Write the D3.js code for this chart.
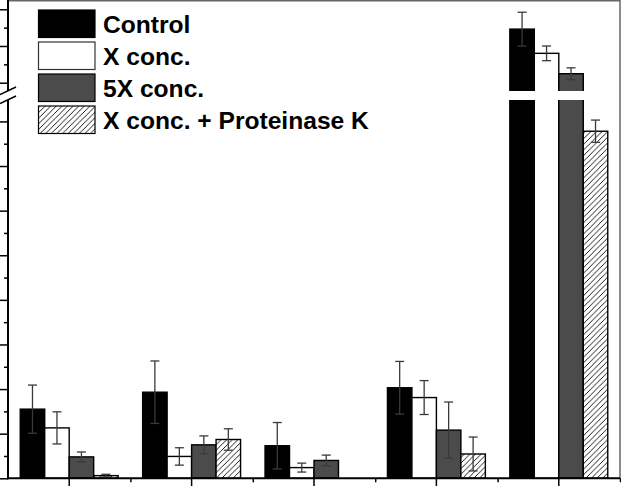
<!DOCTYPE html>
<html><head><meta charset="utf-8">
<script src="https://cdn.jsdelivr.net/npm/d3@7"></script>
<style>html,body{margin:0;padding:0;background:#fff;}svg{display:block;}</style>
</head><body>
<svg id="chart" width="621" height="486"></svg>
<script>
// ---- data ----
const categories = ["G1", "G2", "G3", "G4", "G5"];
const seriesNames = ["Control", "X conc.", "5X conc.", "X conc. + Proteinase K"];
const control      = [1.55, 1.93, 0.73, 2.03, 13.46];
const controlErr   = [0.54, 0.70, 0.52, 0.59, 0.46];
const xConc        = [1.13, 0.49, 0.24, 1.81, 12.80];
const xConcErr     = [0.36, 0.195, 0.10, 0.38, 0.20];
const x5Conc       = [0.48, 0.75, 0.40, 1.08, 12.245];
const x5ConcErr    = [0.11, 0.20, 0.12, 0.63, 0.16];
const xConcPK      = [0.06, 0.87, 0.00, 0.545, 7.78];
const xConcPKErr   = [0.03, 0.24, 0.00, 0.38, 0.25];
const lowerTicksMajor = [0,1,2,3,4,5,6,7,8];
const lowerTicksMinor = [0.5,1.5,2.5,3.5,4.5,5.5,6.5,7.5];
const upperTicksMajor = [12,13,14];
const upperTicksMinor = [12.5,13.5];
const lowerDomain = [0, 8.48];
const upperDomain = [11.774, 14.253];

const values = [control, xConc, x5Conc, xConcPK];
const errors = [controlErr, xConcErr, x5ConcErr, xConcPKErr];

(function draw(){
const svg = d3.select("#chart");
const leftX = 8, rightX = 620, bottomY = 478.3, lowTop = 100, upBottom = 91, topY = 0;

const x = d3.scaleBand().domain(categories).range([leftX, rightX]).padding(0);
const xs = d3.scaleBand().domain(seriesNames).range([x.bandwidth()*0.1, x.bandwidth()*0.9]).padding(0);
const xEdges = d3.scaleLinear().domain([0, categories.length]).range([leftX, rightX]);
const yLow = d3.scaleLinear().domain(lowerDomain).range([bottomY, lowTop]);
const yUp = d3.scaleLinear().domain(upperDomain).range([upBottom, topY]);

const fills = ["#000000", "#ffffff", "#4b4b4b", "url(#hatch)"];

const defs = svg.append("defs");
const hs = 5.6;
const pat = defs.append("pattern").attr("id","hatch").attr("patternUnits","userSpaceOnUse")
  .attr("width",hs).attr("height",hs);
pat.append("rect").attr("width",hs).attr("height",hs).attr("fill","#fff");
pat.append("path").attr("d",`M0,${hs} L${hs},0 M${-hs/4},${hs/4} L${hs/4},${-hs/4} M${hs*0.75},${hs*1.25} L${hs*1.25},${hs*0.75}`)
  .attr("stroke","#000").attr("stroke-width",0.9);
defs.append("clipPath").attr("id","clipLow").append("rect")
  .attr("x",0).attr("y",lowTop).attr("width",621).attr("height",bottomY-lowTop+1);
defs.append("clipPath").attr("id","clipUp").append("rect")
  .attr("x",0).attr("y",topY).attr("width",621).attr("height",upBottom-topY);

// frame (top & right)
svg.append("line").attr("x1",leftX).attr("x2",rightX).attr("y1",0.75).attr("y2",0.75)
  .attr("stroke","#666").attr("stroke-width",1.5);
svg.append("line").attr("x1",rightX).attr("x2",rightX).attr("y1",0).attr("y2",bottomY)
  .attr("stroke","#666").attr("stroke-width",1.5);

// bars
const gLow = svg.append("g").attr("clip-path","url(#clipLow)");
const gUp = svg.append("g").attr("clip-path","url(#clipUp)");
values.forEach((arr, si) => {
  arr.forEach((v, ci) => {
    if (v <= 0) return;
    const bx = x(categories[ci]) + xs(seriesNames[si]);
    const w = xs.bandwidth();
    const yt = Math.max(yLow(v), lowTop - 10);
    gLow.append("rect").attr("x",bx).attr("y",yt).attr("width",w).attr("height",bottomY-yt)
      .attr("fill",fills[si]).attr("stroke","#000").attr("stroke-width",1.4);
    if (v > lowerDomain[1]) {
      const yu = yUp(v);
      gUp.append("rect").attr("x",bx).attr("y",yu).attr("width",w).attr("height",upBottom+10-yu)
        .attr("fill",fills[si]).attr("stroke","#000").attr("stroke-width",1.4);
    }
  });
});

// error bars
values.forEach((arr, si) => {
  arr.forEach((v, ci) => {
    const e = errors[si][ci];
    if (!(e > 0)) return;
    const cx = x(categories[ci]) + xs(seriesNames[si]) + xs.bandwidth()/2;
    const ys = v > lowerDomain[1] ? yUp : yLow;
    const y1 = ys(v + e), y2 = ys(v - e);
    const g = svg.append("g").attr("stroke","#3a3a3a").attr("stroke-width",1.3);
    g.append("line").attr("x1",cx).attr("x2",cx).attr("y1",y1).attr("y2",y2);
    g.append("line").attr("x1",cx-4.5).attr("x2",cx+4.5).attr("y1",y1).attr("y2",y1);
    g.append("line").attr("x1",cx-4.5).attr("x2",cx+4.5).attr("y1",y2).attr("y2",y2);
  });
});

// axes
function styleAxis(g){
  g.select(".domain").remove();
  g.selectAll(".tick line").attr("stroke","#000").attr("stroke-width",1.5);
  g.selectAll(".tick text").remove();
}
svg.append("g").attr("transform",`translate(${leftX},0)`)
  .call(d3.axisLeft(yLow).tickValues(lowerTicksMajor).tickSize(8).tickFormat("")).call(styleAxis);
svg.append("g").attr("transform",`translate(${leftX},0)`)
  .call(d3.axisLeft(yLow).tickValues(lowerTicksMinor).tickSize(4).tickFormat("")).call(styleAxis);
svg.append("g").attr("transform",`translate(${leftX},0)`)
  .call(d3.axisLeft(yUp).tickValues(upperTicksMajor).tickSize(8).tickFormat("")).call(styleAxis);
svg.append("g").attr("transform",`translate(${leftX},0)`)
  .call(d3.axisLeft(yUp).tickValues(upperTicksMinor).tickSize(4).tickFormat("")).call(styleAxis);
svg.append("g").attr("transform",`translate(0,${bottomY})`)
  .call(d3.axisBottom(x).tickSize(8).tickFormat("")).call(styleAxis);
svg.append("g").attr("transform",`translate(0,${bottomY})`)
  .call(d3.axisBottom(xEdges).tickValues(d3.range(1, categories.length+1)).tickSize(4).tickFormat("")).call(styleAxis);

// axis lines
svg.append("line").attr("x1",leftX).attr("x2",leftX).attr("y1",0).attr("y2",upBottom)
  .attr("stroke","#000").attr("stroke-width",2);
svg.append("line").attr("x1",leftX).attr("x2",leftX).attr("y1",lowTop).attr("y2",bottomY+1)
  .attr("stroke","#000").attr("stroke-width",2);
svg.append("line").attr("x1",leftX-1).attr("x2",rightX).attr("y1",bottomY).attr("y2",bottomY)
  .attr("stroke","#000").attr("stroke-width",2);
// break marks
svg.append("line").attr("x1",0).attr("y1",94.5).attr("x2",16).attr("y2",87)
  .attr("stroke","#000").attr("stroke-width",1.5);
svg.append("line").attr("x1",0).attr("y1",103.5).attr("x2",16).attr("y2",96)
  .attr("stroke","#000").attr("stroke-width",1.5);

// legend
const leg = svg.append("g");
seriesNames.forEach((name, i) => {
  const yT = 10 + i*32;
  leg.append("rect").attr("x",38.5).attr("y",yT).attr("width",56.5).attr("height",27.5)
    .attr("fill",fills[i]).attr("stroke", i===1 ? "#333" : "#000").attr("stroke-width",1.2);
  leg.append("text").attr("x",103).attr("y",yT+22.5).text(name)
    .attr("font-family","'Liberation Sans', Arial, Helvetica, sans-serif")
    .attr("font-weight","bold").attr("font-size","24.6px").attr("fill","#000");
});
})();
</script>
</body></html>
